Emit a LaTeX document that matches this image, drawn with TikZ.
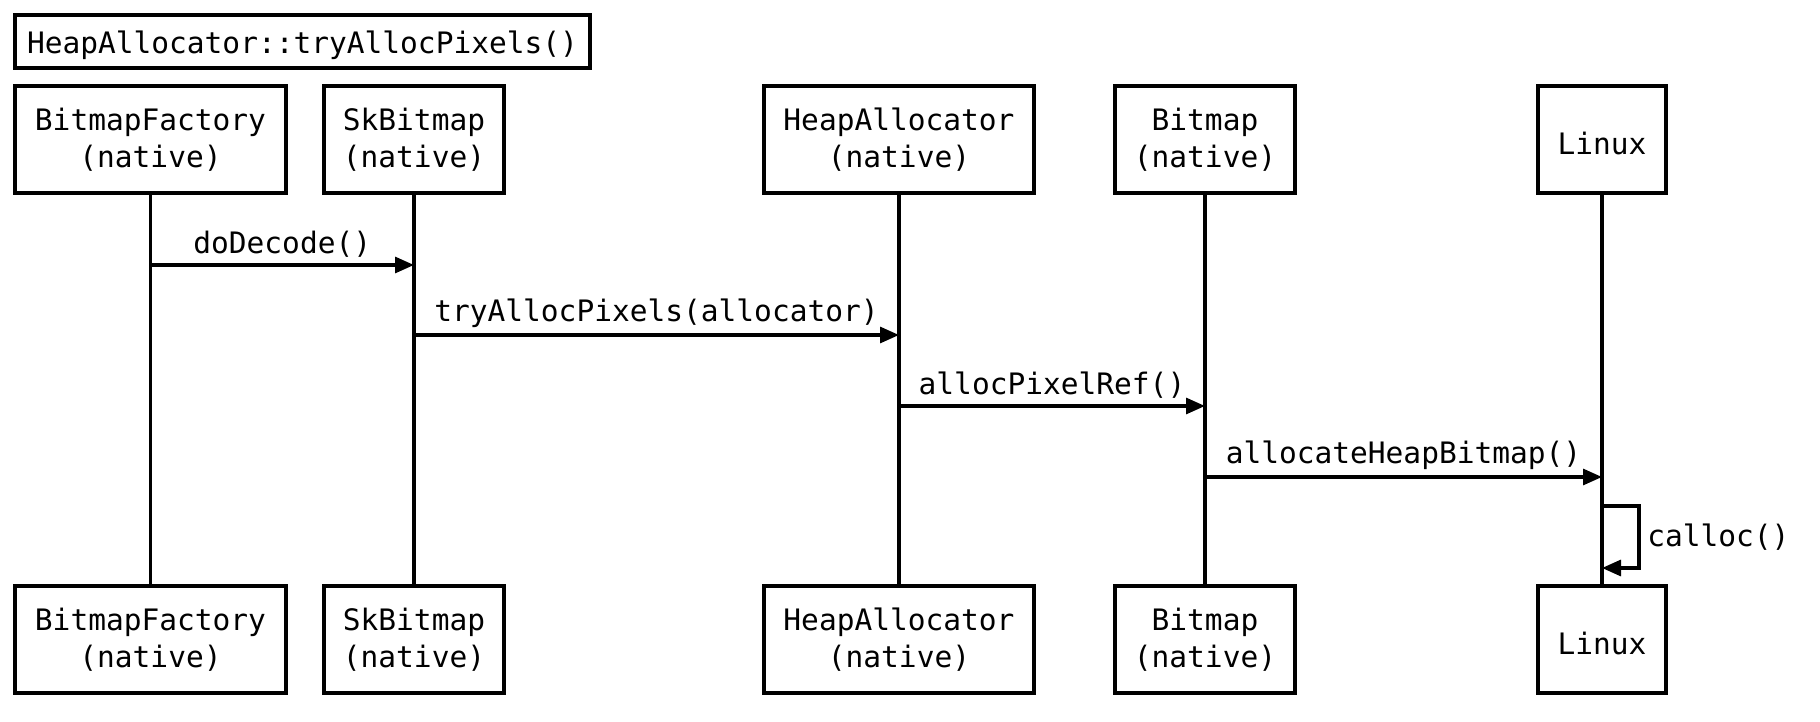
\documentclass[tikz,border=0pt]{standalone}
\usepackage{fontspec}
\setmonofont{DejaVu Sans Mono}
\usetikzlibrary{arrows.meta}

\begin{document}
\begin{tikzpicture}[
  font=\ttfamily\fontsize{8.4}{10.5}\selectfont,
  box/.style={draw, line width=0.9pt, align=center, minimum height=1.07cm, inner sep=0pt,
    execute at begin node={\rule{0pt}{8.4pt}}},
  msg/.style={line width=0.9pt, -{Triangle[length=1.9mm,width=1.6mm]}}
]
\useasboundingbox (0,0) rectangle (18.20,-7.22);

\node [box, minimum width=5.75cm, minimum height=0.53cm] (title) at (3.025,-0.415) {HeapAllocator::tryAllocPixels()};

% participants, top row
\node [box, minimum width=2.71cm] (bfT) at (1.505,-1.395) {BitmapFactory\\(native)};
\node [box, minimum width=1.80cm] (skT) at (4.14,-1.395) {SkBitmap\\(native)};
\node [box, minimum width=2.70cm] (haT) at (8.99,-1.395) {HeapAllocator\\(native)};
\node [box, minimum width=1.80cm] (bmT) at (12.05,-1.395) {Bitmap\\(native)};
\node [box, minimum width=1.28cm] (lxT) at (16.02,-1.395) {Linux};

% participants, bottom row
\node [box, minimum width=2.71cm] (bfB) at (1.505,-6.395) {BitmapFactory\\(native)};
\node [box, minimum width=1.80cm] (skB) at (4.14,-6.395) {SkBitmap\\(native)};
\node [box, minimum width=2.70cm] (haB) at (8.99,-6.395) {HeapAllocator\\(native)};
\node [box, minimum width=1.80cm] (bmB) at (12.05,-6.395) {Bitmap\\(native)};
\node [box, minimum width=1.28cm] (lxB) at (16.02,-6.395) {Linux};

% lifelines
\begin{scope}[line width=0.9pt]
\draw (bfT) -- (bfB);
\draw (skT) -- (skB);
\draw (haT) -- (haB);
\draw (bmT) -- (bmB);
\draw (lxT) -- (lxB);
\end{scope}

% message ends on the lifelines
\coordinate (bf1) at (1.505,-2.65);
\coordinate (sk1) at (4.14,-2.65);
\coordinate (sk2) at (4.14,-3.35);
\coordinate (ha2) at (8.99,-3.35);
\coordinate (ha3) at (8.99,-4.06);
\coordinate (bm3) at (12.05,-4.06);
\coordinate (bm4) at (12.05,-4.77);
\coordinate (lx4) at (16.02,-4.77);
\coordinate (lx5) at (16.02,-5.06);
\coordinate (lx5r) at (16.39,-5.06);
\coordinate (lx6r) at (16.39,-5.68);
\coordinate (lx6) at (16.02,-5.68);

\begin{scope}[msg]
\draw (bf1) -- (sk1) node [above=-0.6mm, midway] {doDecode()};
\draw (sk2) -- (ha2) node [above=-0.6mm, midway] {tryAllocPixels(allocator)};
\draw (ha3) -- (bm3) node [above=-0.6mm, midway] {allocPixelRef()};
\draw (bm4) -- (lx4) node [above=-0.6mm, midway] {allocateHeapBitmap()};
\draw (lx5) -- (lx5r) -- (lx6r) node [right=-0.5mm, midway] {calloc()} -- (lx6);
\end{scope}

\end{tikzpicture}
\end{document}
